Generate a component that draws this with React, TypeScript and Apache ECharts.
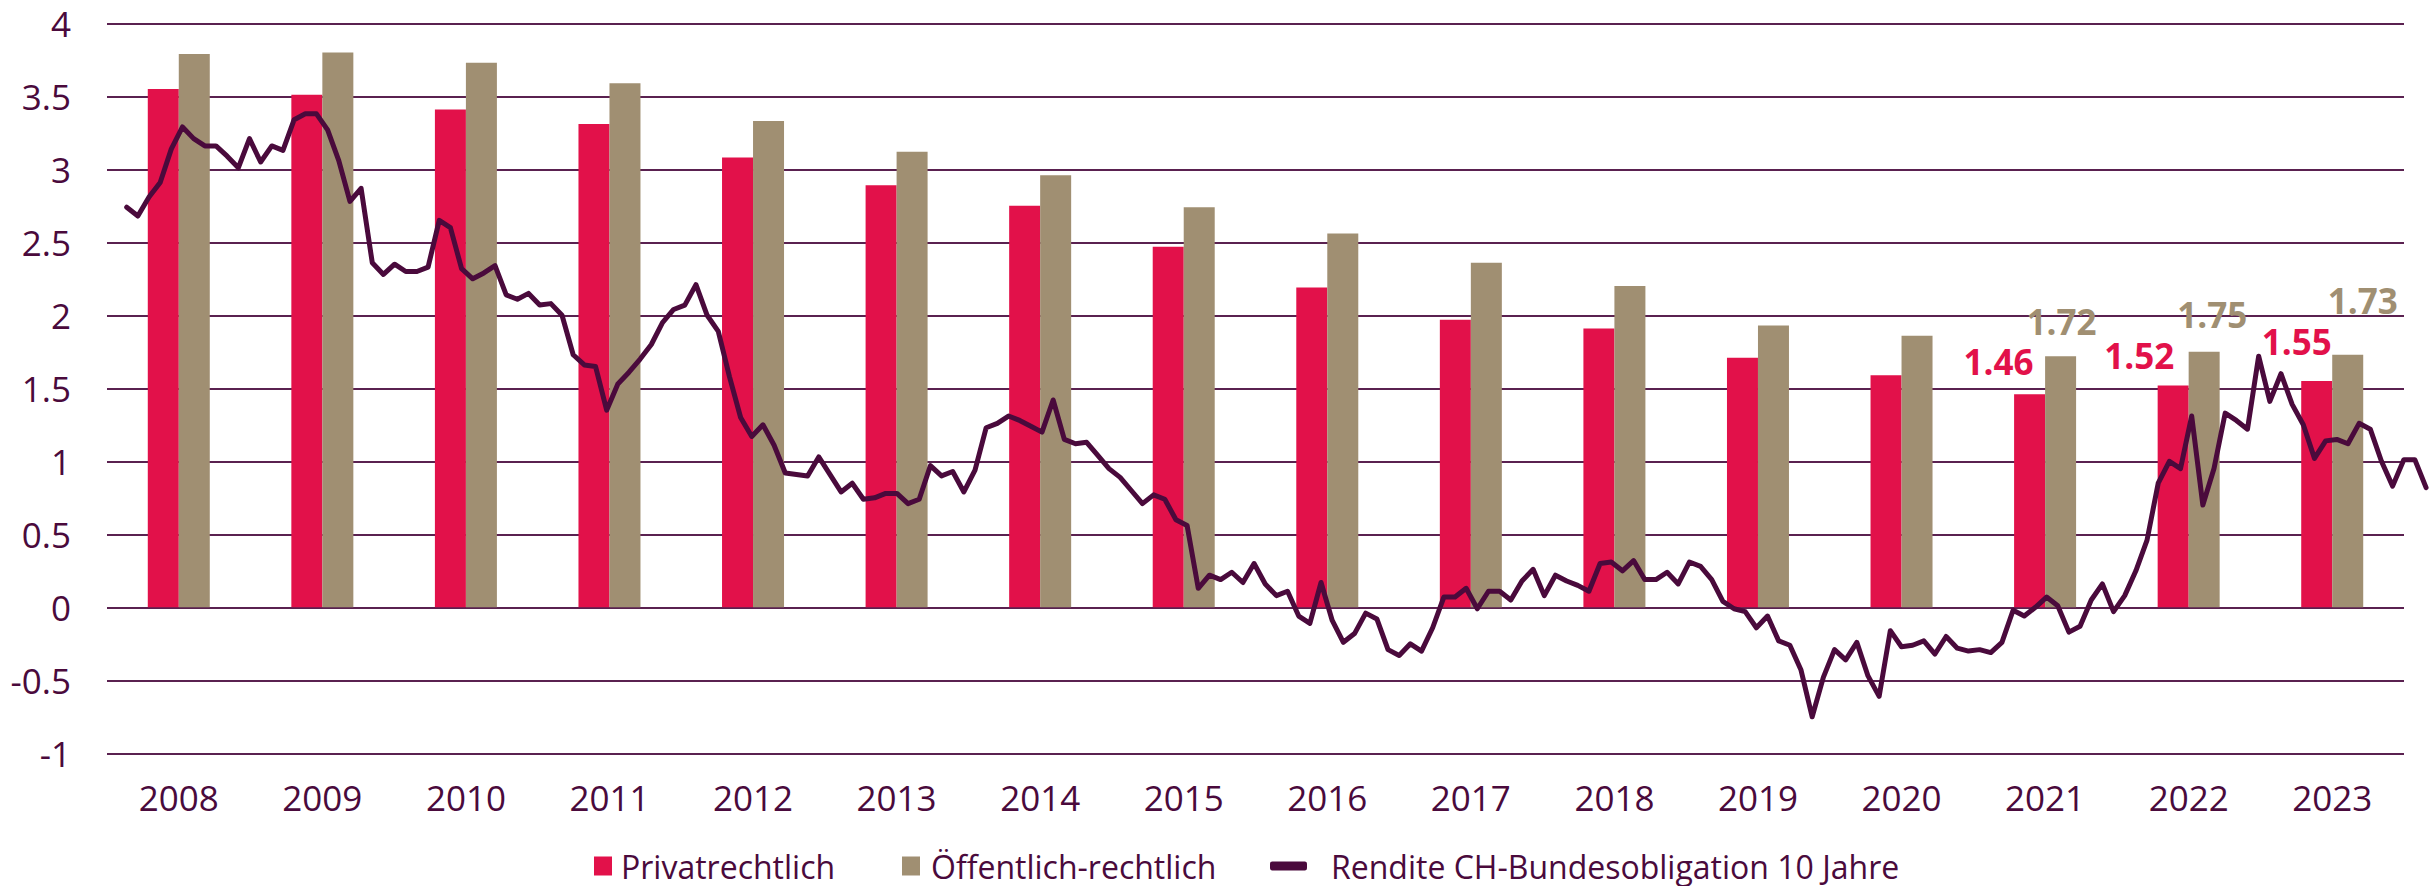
import React, { useEffect, useRef } from "react";
import * as echarts from "echarts";

const years = ["2008", "2009", "2010", "2011", "2012", "2013", "2014", "2015", "2016", "2017", "2018", "2019", "2020", "2021", "2022", "2023"];
const privatrechtlich = [3.55, 3.51, 3.41, 3.31, 3.08, 2.89, 2.75, 2.47, 2.19, 1.97, 1.91, 1.71, 1.59, 1.46, 1.52, 1.55];
const oeffentlich = [3.79, 3.80, 3.73, 3.59, 3.33, 3.12, 2.96, 2.74, 2.56, 2.36, 2.20, 1.93, 1.86, 1.72, 1.75, 1.73];
const rendite = [
  2.74, 2.68, 2.81, 2.91, 3.14, 3.29, 3.21, 3.16, 3.16, 3.09,
  3.01, 3.21, 3.05, 3.16, 3.13, 3.34, 3.38, 3.38, 3.27, 3.06,
  2.78, 2.87, 2.36, 2.28, 2.35, 2.30, 2.30, 2.33, 2.65, 2.60,
  2.32, 2.25, 2.29, 2.34, 2.14, 2.11, 2.15, 2.07, 2.08, 2.00,
  1.73, 1.66, 1.65, 1.35, 1.53, 1.61, 1.70, 1.80, 1.95, 2.04,
  2.07, 2.21, 2.00, 1.89, 1.58, 1.30, 1.17, 1.25, 1.11, 0.92,
  0.91, 0.90, 1.03, 0.91, 0.79, 0.85, 0.74, 0.75, 0.78, 0.78,
  0.71, 0.74, 0.97, 0.90, 0.93, 0.79, 0.94, 1.23, 1.26, 1.31,
  1.28, 1.24, 1.20, 1.42, 1.15, 1.12, 1.13, 1.04, 0.95, 0.89,
  0.80, 0.71, 0.77, 0.74, 0.60, 0.56, 0.13, 0.22, 0.19, 0.24,
  0.17, 0.30, 0.16, 0.08, 0.11, -0.06, -0.11, 0.17, -0.09, -0.24,
  -0.18, -0.04, -0.08, -0.29, -0.33, -0.25, -0.30, -0.14, 0.07, 0.07,
  0.13, -0.01, 0.11, 0.11, 0.05, 0.18, 0.26, 0.08, 0.22, 0.18,
  0.15, 0.11, 0.30, 0.31, 0.25, 0.32, 0.19, 0.19, 0.24, 0.16,
  0.31, 0.28, 0.19, 0.04, -0.01, -0.03, -0.14, -0.06, -0.23, -0.26,
  -0.43, -0.75, -0.48, -0.29, -0.36, -0.24, -0.47, -0.61, -0.16, -0.27,
  -0.26, -0.23, -0.32, -0.20, -0.28, -0.30, -0.29, -0.31, -0.24, -0.02,
  -0.06, 0.00, 0.07, 0.01, -0.17, -0.13, 0.05, 0.16, -0.03, 0.08,
  0.25, 0.46, 0.85, 1.00, 0.95, 1.31, 0.70, 0.95, 1.33, 1.28,
  1.22, 1.72, 1.41, 1.60, 1.39, 1.25, 1.02, 1.14, 1.15, 1.12,
  1.26, 1.22, 1.00, 0.83, 1.01, 1.01, 0.82,
];
const seriesNames = ["Privatrechtlich", "Öffentlich-rechtlich", "Rendite CH-Bundesobligation 10 Jahre"];

const RED = "#E2114A";
const TAN = "#A08F72";
const PURPLE = "#4A0A3C";
const GRID = "#5A2150";
const FONT = "'Open Sans', 'Noto Sans', sans-serif";

// label placement (style only)
const redLabelOffsets: Record<number, [number, number]> = { 13: [-31, -10], 14: [-34, -7], 15: [-20, -17] };
const tanLabelOffsets: Record<number, [number, number]> = { 13: [1, -12], 14: [8, -15], 15: [15, -32] };

function barData(values: number[], offsets: Record<number, [number, number]>, color: string) {
  return values.map((v, i) =>
    offsets[i]
      ? {
          value: v,
          label: {
            show: true,
            position: "top",
            offset: offsets[i],
            color,
            fontFamily: FONT,
            fontWeight: "bold",
            fontSize: 35,
            formatter: (p: any) => Number(p.value).toFixed(2),
          },
        }
      : v
  );
}

export default function App() {
  const ref = useRef<HTMLDivElement>(null);
  useEffect(() => {
    if (!ref.current) return;
    const chart = echarts.init(ref.current, undefined, { renderer: "svg" });
    const legendText = { fontFamily: FONT, fontSize: 32, color: PURPLE, lineHeight: 30 };
    const legendBase = { top: 845, orient: "horizontal", selectedMode: false };
    chart.setOption({
      animation: false,
      backgroundColor: "#ffffff",
      grid: [
        { left: 107, right: 27, top: 23.3, bottom: 132.7, containLabel: false },
        { left: 107, right: 2, top: 23.3, bottom: 132.7, containLabel: false },
      ],
      legend: [
        { ...legendBase, left: 589, itemWidth: 18, itemHeight: 19, icon: "rect", data: [seriesNames[0]], textStyle: { ...legendText, padding: [0, 0, 0, 4] } },
        { ...legendBase, left: 897, itemWidth: 18, itemHeight: 19, icon: "rect", data: [seriesNames[1]], textStyle: { ...legendText, padding: [0, 0, 0, 6] } },
        { ...legendBase, left: 1265, itemWidth: 37, itemHeight: 9, icon: "roundRect", data: [seriesNames[2]], textStyle: { ...legendText, padding: [0, 0, 0, 19] } },
      ],
      xAxis: [
        {
          type: "category",
          gridIndex: 0,
          data: years,
          boundaryGap: true,
          axisLine: { show: false, onZero: false },
          axisTick: { show: false },
          splitLine: { show: false },
          axisLabel: { fontFamily: FONT, fontSize: 35, color: PURPLE, margin: 27 },
        },
        {
          type: "value",
          gridIndex: 1,
          show: false,
          min: -1.765,
          max: 206.26,
          axisLine: { onZero: false },
          splitLine: { show: false },
        },
      ],
      yAxis: [
        {
          type: "value",
          gridIndex: 0,
          min: -1,
          max: 4,
          interval: 0.5,
          axisLine: { show: false },
          axisTick: { show: false },
          axisLabel: { fontFamily: FONT, fontSize: 35, color: PURPLE, margin: 36 },
          splitLine: { show: true, lineStyle: { color: GRID, width: 2 } },
        },
        {
          type: "value",
          gridIndex: 1,
          show: false,
          min: -1,
          max: 4,
          interval: 0.5,
          splitLine: { show: false },
        },
      ],
      series: [
        {
          name: seriesNames[0],
          type: "bar",
          xAxisIndex: 0,
          yAxisIndex: 0,
          barWidth: 31,
          barGap: "0%",
          itemStyle: { color: RED },
          data: barData(privatrechtlich, redLabelOffsets, RED),
        },
        {
          name: seriesNames[1],
          type: "bar",
          xAxisIndex: 0,
          yAxisIndex: 0,
          barWidth: 31,
          barGap: "0%",
          itemStyle: { color: TAN },
          data: barData(oeffentlich, tanLabelOffsets, TAN),
        },
        {
          name: seriesNames[2],
          type: "line",
          xAxisIndex: 1,
          yAxisIndex: 1,
          symbol: "none",
          lineStyle: { color: PURPLE, width: 5, join: "round", cap: "round" },
          itemStyle: { color: PURPLE },
          data: rendite.map((v, i) => [i, v]),
          z: 5,
        },
      ],
    });
    return () => chart.dispose();
  }, []);
  return <div ref={ref} style={{ position: "absolute", left: 0, top: 0, width: 2431, height: 886 }} />;
}
